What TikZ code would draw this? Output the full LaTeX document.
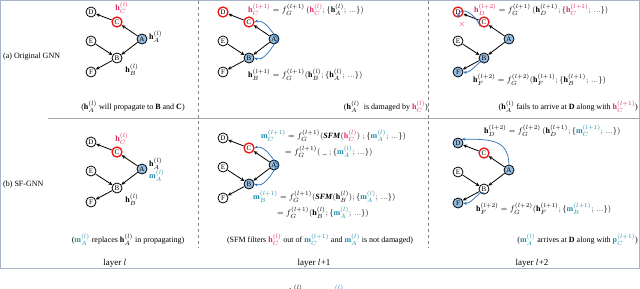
\documentclass[tikz,border=0pt]{standalone}
\usepackage{fontspec}
\setmainfont{Liberation Serif}
\usetikzlibrary{arrows.meta}
\definecolor{hred}{RGB}{222,40,90}
\definecolor{tealc}{RGB}{30,140,170}
\definecolor{nblue}{RGB}{150,190,225}
\definecolor{cblue}{RGB}{40,110,175}
\definecolor{framec}{RGB}{170,180,200}
\definecolor{rcirc}{RGB}{240,20,20}
\newcommand{\hh}[2]{\mathbf{h}_{#1}^{(#2)}}
\newcommand{\mm}[2]{\mathbf{m}_{#1}^{(#2)}}
\newcommand{\rh}[2]{\textcolor{hred}{\mathbf{h}_{#1}^{(#2)}}}
\newcommand{\tm}[2]{\textcolor{tealc}{\mathbf{m}_{#1}^{(#2)}}}
\newcommand{\sfm}{\mbox{\textbf{\itshape SFM}}}
\tikzset{
 nd/.style={circle,draw,line width=0.8pt,inner sep=0pt,minimum size=10pt,font=\fontsize{7}{7}\selectfont,fill=white},
 rnd/.style={nd,draw=rcirc,line width=1.3pt},
 bnd/.style={nd,fill=nblue},
 ar/.style={-{Stealth[length=4pt,width=3.5pt]},line width=0.8pt},
 cv/.style={cblue,line width=0.7pt,-{Stealth[length=3.5pt,width=3pt]}},
 txt/.style={font=\fontsize{8}{9}\selectfont,inner sep=0pt},
 lay/.style={font=\fontsize{9}{10}\selectfont,inner sep=0pt}
}
\newcommand{\gnet}[8]{%
 \begin{scope}[shift={(#2,#3)}]
 \node[#4] (#1D) at (0,0) {D};
 \node[#5] (#1C) at (26,10) {C};
 \node[#6] (#1A) at (51,27) {A};
 \node[nd] (#1E) at (0,29) {E};
 \node[#7] (#1B) at (26,46) {B};
 \node[#8] (#1F) at (0,60) {F};
 \draw[ar] (#1C) -- (#1D);
 \draw[ar] (#1A) -- (#1C);
 \draw[ar] (#1A) -- (#1B);
 \draw[ar] (#1E) -- (#1B);
 \draw[ar] (#1B) -- (#1F);
 \end{scope}}
\begin{document}
\begin{tikzpicture}[x=1pt,y=-1pt]
\useasboundingbox (0,0) rectangle (640,289);
% frame and separators
\draw[framec,line width=1pt] (0.5,0.5) rectangle (639.5,268.5);
\draw[gray!70,line width=0.6pt] (48,118.5) -- (639.5,118.5);
\draw[gray,dashed,line width=0.5pt] (198,1) -- (198,248);
\draw[gray,dashed,line width=0.5pt] (428,1) -- (428,248);
% row labels
\node[txt,anchor=west] (ra) at (3,57) {(a) Original GNN};
\node[txt,anchor=west] (rb) at (3,185) {(b) SF-GNN};
% layer labels
\node[lay] (l1) at (115,263) {layer $l$};
\node[lay] (l2) at (314,263) {layer $l$+1};
\node[lay] (l3) at (532,263) {layer $l$+2};
% cropped caption fragments at the bottom
\node[txt,anchor=base] (cf1) at (296,294) {$\mathbf{h}_A^{(l)}$};
\node[txt,anchor=base] (cf2) at (336,294) {$\tm{A}{l}$};

% ---------- panel 1a ----------
\gnet{p}{91}{12}{nd}{rnd}{bnd}{nd}{nd}
\node[txt] (p1) at (122,8) {$\rh{C}{l}$};
\node[txt,anchor=west] (p2) at (149,37) {$\hh{A}{l}$};
\node[txt] (p3) at (132,70) {$\hh{B}{l}$};
\node[txt] (p4) at (133,107) {($\hh{A}{l}$ will propagate to \textbf{B} and \textbf{C})};

% ---------- panel 1b ----------
\gnet{q}{91}{142}{nd}{rnd}{bnd}{nd}{nd}
\node[txt] (q1) at (122,139) {$\rh{C}{l}$};
\node[txt,anchor=west] (q2) at (149,164) {$\hh{A}{l}$};
\node[txt,anchor=west] (q5) at (149,176) {$\tm{A}{l}$};
\node[txt] (q3) at (132,200) {$\hh{B}{l}$};
\node[txt] (q4) at (128,240) {($\tm{A}{l}$ replaces $\hh{A}{l}$ in propagating)};

% ---------- panel 2a ----------
\gnet{r}{223}{12}{rnd}{rnd}{bnd}{bnd}{nd}
\draw[cv] (rA.north east) to[out=-80,in=20,looseness=1.3] (rC.east);
\draw[cv] (rA.south east) to[out=80,in=-20,looseness=1.3] (rB.east);
\node[txt,anchor=west] (r1) at (248,10) {$\rh{C}{l+1} = f_G^{(l+1)}\,(\rh{C}{l};\{\hh{A}{l};\,...\})$};
\node[txt,anchor=west] (r2) at (248,75) {$\hh{B}{l+1} = f_G^{(l+1)}(\hh{B}{l};\{\hh{A}{l};\,...\})$};
\node[txt,anchor=east] (r3) at (428,107) {($\hh{A}{l}$\ \ is damaged by $\rh{C}{l}$)};

% ---------- panel 2b ----------
\gnet{s}{223}{138}{nd}{rnd}{bnd}{bnd}{nd}
\draw[cv] (sA.north east) to[out=-80,in=20,looseness=1.3] (sC.east);
\draw[cv] (sA.south east) to[out=80,in=-20,looseness=1.3] (sB.east);
\node[txt,anchor=west] (s1) at (261,136) {$\tm{C}{l+1} = f_G^{(l+1)}(\sfm(\rh{C}{l})\;;\{\tm{A}{l};\,...\})$};
\node[txt,anchor=west] (s2) at (285,152) {$= f_G^{(l+1)}(\;\_\;;\{\tm{A}{l};\,...\})$};
\node[txt,anchor=west] (s3) at (253,197) {$\tm{B}{l+1} = f_G^{(l+1)}(\sfm(\hh{B}{l});\{\tm{A}{l};\,...\})$};
\node[txt,anchor=west] (s4) at (277,213) {$= f_G^{(l+1)}(\hh{B}{l};\{\tm{A}{l};\,...\})$};
\node[txt] (s5) at (320,240) {(SFM filters $\rh{C}{l}$ out of $\tm{C}{l+1}$ and $\tm{A}{l}$ is not damaged)};

% ---------- panel 3a ----------
\gnet{t}{458}{12}{rnd}{rnd}{bnd}{bnd}{bnd}
\draw[cv] (tC.south west) to[out=110,in=80,looseness=1.4] (tD.south);
\node[font=\fontsize{8}{8}\selectfont,text=hred,inner sep=0pt] (tx) at (462,25) {$\times$};
\draw[cv] (tB.south) to[out=100,in=-10] (tF.east);
\node[txt,anchor=west] (t1) at (474,10) {$\rh{D}{l+2} = f_G^{(l+1)}\,(\hh{D}{l+1};\{\rh{C}{l+1};\,...\})$};
\node[txt,anchor=west] (t2) at (473,80) {$\hh{F}{l+2} = f_G^{(l+2)}(\hh{F}{l+1};\{\hh{B}{l+1};\,...\})$};
\node[txt,anchor=east] (t3) at (638,107) {($\hh{A}{l}$ fails to arrive at \textbf{D} along with $\rh{C}{l+1}$)};

% ---------- panel 3b ----------
\gnet{u}{458}{143}{bnd}{rnd}{bnd}{nd}{bnd}
\draw[cv] (uA.north) .. controls (508,141) and (494,139) .. (uD.north east);
\draw[cv] (uB.south) to[out=100,in=-10] (uF.east);
\node[txt,anchor=west] (u1) at (484,131) {$\hh{D}{l+2} = f_G^{(l+2)}\,(\hh{D}{l+1};\{\tm{C}{l+1};\,...\})$};
\node[txt,anchor=west] (u2) at (476,209) {$\hh{F}{l+2} = f_G^{(l+2)}(\hh{F}{l+1};\{\tm{B}{l+1};\,...\})$};
\node[txt,anchor=east] (u3) at (638,240) {($\tm{A}{l}$ arrives at \textbf{D} along with $\textcolor{tealc}{\mathbf{p}_C^{(l+1)}}$)};
\end{tikzpicture}
\end{document}
